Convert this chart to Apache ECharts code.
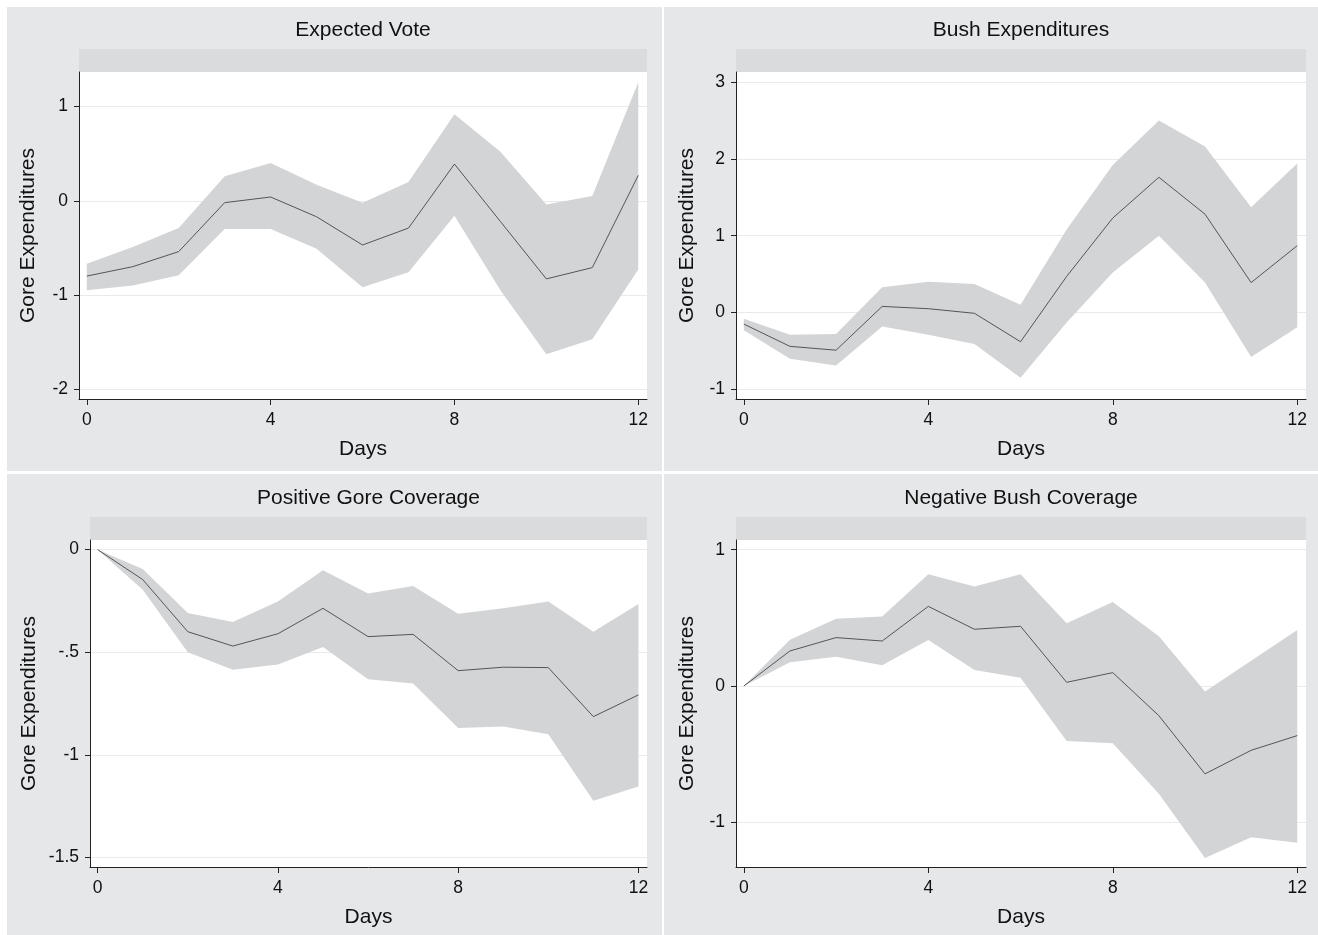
<!DOCTYPE html>
<html>
<head>
<meta charset="utf-8">
<title>Gore Expenditures responses</title>
<script src="https://cdn.jsdelivr.net/npm/echarts@6.0.0/dist/echarts.min.js"></script>
<style>
  html, body { margin: 0; padding: 0; background: #fff; }
  #chart { width: 1318px; height: 935px; }
</style>
</head>
<body>
<div id="chart"></div>
<script>
const days = [0, 1, 2, 3, 4, 5, 6, 7, 8, 9, 10, 11, 12]
const dayTicks = [0, 4, 8, 12]

// Expected Vote
const voteMean = [-0.80, -0.70, -0.54, -0.02, 0.04, -0.17, -0.47, -0.29, 0.39, -0.22, -0.83, -0.71, 0.27]
const voteLow = [-0.95, -0.90, -0.79, -0.30, -0.30, -0.51, -0.92, -0.76, -0.16, -0.95, -1.63, -1.47, -0.73]
const voteHigh = [-0.67, -0.49, -0.29, 0.26, 0.40, 0.17, -0.02, 0.20, 0.92, 0.52, -0.04, 0.05, 1.26]
const voteTicks = [-2, -1, 0, 1]

// Bush Expenditures
const bushExpMean = [-0.15, -0.44, -0.49, 0.08, 0.05, -0.01, -0.38, 0.47, 1.23, 1.76, 1.28, 0.39, 0.87]
const bushExpLow = [-0.23, -0.60, -0.69, -0.18, -0.29, -0.41, -0.85, -0.13, 0.52, 1.00, 0.39, -0.58, -0.19]
const bushExpHigh = [-0.08, -0.29, -0.28, 0.33, 0.40, 0.37, 0.10, 1.08, 1.92, 2.50, 2.16, 1.37, 1.94]
const bushExpTicks = [-1, 0, 1, 2, 3]

// Positive Gore Coverage
const posGoreMean = [0, -0.146, -0.40, -0.47, -0.41, -0.286, -0.424, -0.413, -0.59, -0.573, -0.575, -0.814, -0.708]
const posGoreLow = [0, -0.195, -0.50, -0.585, -0.56, -0.474, -0.632, -0.652, -0.87, -0.862, -0.90, -1.224, -1.154]
const posGoreHigh = [0, -0.094, -0.309, -0.353, -0.253, -0.10, -0.214, -0.177, -0.312, -0.286, -0.253, -0.40, -0.265]
const posGoreTicks = [-1.5, -1, -0.5, 0]

// Negative Bush Coverage
const negBushMean = [0, 0.257, 0.355, 0.33, 0.584, 0.416, 0.438, 0.027, 0.098, -0.218, -0.645, -0.472, -0.364]
const negBushLow = [0, 0.174, 0.215, 0.152, 0.337, 0.117, 0.061, -0.403, -0.42, -0.79, -1.262, -1.11, -1.15]
const negBushHigh = [0, 0.34, 0.494, 0.509, 0.82, 0.729, 0.82, 0.46, 0.616, 0.364, -0.04, 0.186, 0.41]
const negBushTicks = [-1, 0, 1]

const FONT = "'Liberation Sans', Arial, sans-serif"
const panelBg = '#e6e7e9'
const bandBg = '#dadbdd'
const ciFill = '#d3d4d6'

const panels = [
  {title: 'Expected Vote', mean: voteMean, low: voteLow, high: voteHigh, ticks: voteTicks,
    yMin: -2.106, yMax: 1.368, box: [7, 7, 655, 464], left: 79, top: 72, width: 568, height: 327, nameGap: 40},
  {title: 'Bush Expenditures', mean: bushExpMean, low: bushExpLow, high: bushExpHigh, ticks: bushExpTicks,
    yMin: -1.125, yMax: 3.13, box: [664, 7, 654, 464], left: 736, top: 72, width: 570, height: 327, nameGap: 38},
  {title: 'Positive Gore Coverage', mean: posGoreMean, low: posGoreLow, high: posGoreHigh, ticks: posGoreTicks,
    yMin: -1.547, yMax: 0.047, box: [7, 474, 655, 461], left: 90, top: 540, width: 557, height: 327, nameGap: 50},
  {title: 'Negative Bush Coverage', mean: negBushMean, low: negBushLow, high: negBushHigh, ticks: negBushTicks,
    yMin: -1.328, yMax: 1.071, box: [664, 474, 654, 461], left: 736, top: 540, width: 570, height: 327, nameGap: 38}
]

function stataLabel(v) {
  return String(v).replace(/^(-?)0\./, '$1.')
}

const grids = []
const xAxes = []
const yAxes = []
const series = []
const graphics = []

panels.forEach((p, k) => {
  // panel background, grey band above plot, title
  graphics.push({type: 'rect', z: -10, shape: {x: p.box[0], y: p.box[1], width: p.box[2], height: p.box[3]}, style: {fill: panelBg}})
  graphics.push({type: 'rect', z: -9, shape: {x: p.left, y: p.top - 23, width: p.width, height: 23}, style: {fill: bandBg}})
  graphics.push({type: 'text', z: 10, x: p.left + p.width / 2, y: p.top - 42,
    style: {text: p.title, font: '21px ' + FONT, fill: '#111', textAlign: 'center', textVerticalAlign: 'middle'}})

  grids.push({left: p.left, top: p.top, width: p.width, height: p.height, show: true,
    backgroundColor: '#fff', borderWidth: 0, containLabel: false, outerBoundsMode: 'none'})

  xAxes.push({
    type: 'value', gridIndex: k, min: -0.17, max: 12.19,
    name: 'Days', nameLocation: 'middle', nameGap: 40,
    nameTextStyle: {fontFamily: FONT, fontSize: 21, color: '#111'},
    axisLine: {onZero: false, lineStyle: {color: '#222', width: 1}},
    axisTick: {show: true, length: 6, customValues: dayTicks, lineStyle: {color: '#222'}},
    axisLabel: {customValues: dayTicks, margin: 12, fontFamily: FONT, fontSize: 17.5, color: '#111'},
    splitLine: {show: false}
  })

  yAxes.push({
    type: 'value', gridIndex: k, min: p.yMin, max: p.yMax,
    name: 'Gore Expenditures', nameLocation: 'middle', nameGap: p.nameGap, nameRotate: 90,
    nameTextStyle: {fontFamily: FONT, fontSize: 21, color: '#111'},
    axisLine: {show: true, onZero: false, lineStyle: {color: '#222', width: 1}},
    axisTick: {show: true, length: 5, customValues: p.ticks, lineStyle: {color: '#222'}},
    axisLabel: {customValues: p.ticks, margin: 11, fontFamily: FONT, fontSize: 17.5, color: '#111',
      formatter: stataLabel},
    splitLine: {show: true, lineStyle: {color: '#eaeaea', width: 1}}
  })

  // confidence band: one polygon, upper bound forward then lower bound back
  series.push({
    type: 'custom', xAxisIndex: k, yAxisIndex: k, silent: true,
    data: days.map((d, i) => [d, p.low[i], p.high[i]]),
    encode: {x: 0, y: [1, 2]},
    renderItem: function(params, api) {
      if (params.dataIndex !== 0) return null
      const pts = []
      for (let i = 0; i < days.length; i++) pts.push(api.coord([days[i], p.high[i]]))
      for (let i = days.length - 1; i >= 0; i--) pts.push(api.coord([days[i], p.low[i]]))
      return {type: 'polygon', shape: {points: pts}, style: {fill: ciFill}}
    }
  })
  series.push({
    type: 'line', xAxisIndex: k, yAxisIndex: k,
    data: days.map((d, i) => [d, p.mean[i]]), showSymbol: false, silent: true,
    lineStyle: {color: '#555', width: 1}
  })
})

const chart = echarts.init(document.getElementById('chart'))
chart.setOption({
  backgroundColor: '#fff',
  animation: false,
  graphic: graphics,
  grid: grids,
  xAxis: xAxes,
  yAxis: yAxes,
  series: series
})
window.addEventListener('resize', function() {
  chart.resize()
})
</script>
</body>
</html>
